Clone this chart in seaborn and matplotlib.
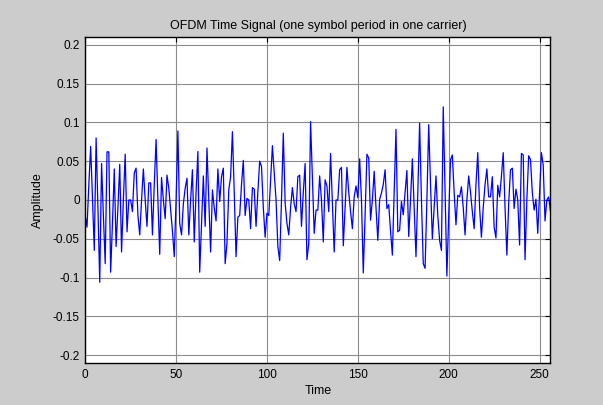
import numpy as np
import pandas as pd
import matplotlib
matplotlib.use("Agg")
import matplotlib.pyplot as plt
import seaborn as sns

# Time-domain OFDM samples, one symbol period (n = 0 .. 256), in four blocks
amp_block1 = [
    -0.02, -0.035, 0.02, 0.069, 0.0, -0.065, 0.08, -0.01, -0.106, 0.047,
    -0.02, -0.082, 0.062, 0.062, -0.093, -0.03, 0.04, -0.06, -0.01, 0.046,
    -0.067, 0.0, 0.059, -0.041, 0.0, 0.0, -0.015, 0.035, 0.041, -0.02,
    -0.045, 0.0, 0.04, 0.0, -0.034, 0.022, 0.022, -0.045, 0.02, 0.078,
    0.0, -0.07, 0.029, 0.0, -0.024, 0.032, 0.015, -0.013, -0.04, -0.073,
    0.0, 0.089, -0.03, -0.045, -0.005, 0.015, 0.028, -0.045, 0.0, 0.039,
    -0.054, 0.01, 0.0625, -0.093,
]
amp_block2 = [
    -0.03, 0.031, -0.034, 0.067, 0.0, -0.067, 0.013, -0.01, -0.027, 0.04,
    -0.002, 0.03, 0.041, -0.082, -0.056, 0.013, 0.03, 0.088, 0.01, -0.073,
    -0.022, -0.02, 0.02, 0.051, -0.02, 0.002, 0.0, -0.037, 0.016, 0.014,
    -0.034, 0.01, 0.05, 0.043, -0.01, -0.048, -0.017, -0.02, 0.025, 0.07,
    0.035, 0.0, -0.06, -0.078, 0.0, 0.086, -0.004, -0.03, -0.045, -0.01,
    0.016, -0.005, -0.015, 0.03, 0.032, -0.034, 0.01, 0.047, -0.077, -0.056,
    0.101, 0.03, -0.043, -0.013,
]
amp_block3 = [
    -0.013, 0.031, 0.0, -0.054, 0.026, 0.018, -0.015, 0.06, -0.005, -0.067,
    0.0, 0.0, 0.039, 0.042, -0.059, -0.01, 0.042, 0.01, -0.015, -0.037,
    0.004, 0.018, 0.003, 0.053, 0.0, -0.094, -0.02, 0.059, 0.054, -0.026,
    0.0, 0.037, -0.01, -0.052, 0.001, 0.009, 0.02, 0.039, -0.011, -0.006,
    -0.04, -0.071, 0.01, 0.091, -0.041, -0.039, -0.002, -0.019, 0.01, 0.038,
    -0.047, 0.0, 0.053, -0.01, -0.073, 0.01, 0.099, 0.0, -0.082, -0.088,
    0.0, 0.097, 0.02, -0.05,
]
amp_block4 = [
    -0.01, 0.031, -0.02, -0.052, -0.065, 0.12, 0.01, -0.098, -0.02, 0.052,
    0.058, 0.01, -0.032, 0.006, 0.004, 0.017, -0.01, -0.045, 0.0, 0.031,
    0.01, -0.015, -0.037, 0.02, 0.061, -0.01, -0.048, -0.01, 0.02, 0.04,
    0.004, 0.004, 0.03, -0.035, -0.049, 0.019, 0.004, 0.03, 0.061, -0.01,
    -0.071, -0.005, 0.039, 0.041, -0.011, 0.014, 0.0, -0.058, 0.06, 0.058,
    -0.077, 0.0, 0.057, 0.052, 0.01, -0.013, 0.001, -0.043, 0.01, 0.061,
    0.045, -0.027, 0.0, 0.004, -0.015,
]

x_ticks = [0, 50, 100, 150, 200, 250]
x_tick_labels = ["0", "50", "100", "150", "200", "250"]
y_ticks = [-0.2, -0.15, -0.1, -0.05, 0, 0.05, 0.1, 0.15, 0.2]
y_tick_labels = ["-0.2", "-0.15", "-0.1", "-0.05", "0", "0.05", "0.1", "0.15", "0.2"]

amplitude = amp_block1 + amp_block2 + amp_block3 + amp_block4
df = pd.DataFrame({"Time": np.arange(len(amplitude)), "Amplitude": amplitude})

sns.set_style("white")
plt.rcParams["font.family"] = ["Liberation Sans", "DejaVu Sans"]
plt.rcParams["text.color"] = "black"
plt.rcParams["axes.labelcolor"] = "black"

fig = plt.figure(figsize=(6.03, 4.05), dpi=100, facecolor="#cccccc")
ax = fig.add_axes([0.1413, 0.1037, 0.7716, 0.805])
ax.set_facecolor("white")

sns.lineplot(data=df, x="Time", y="Amplitude", ax=ax, color="#0000ff",
             linewidth=0.9, estimator=None)

ax.set_xlim(0, 256)
ax.set_ylim(-0.21, 0.21)
ax.set_xticks(x_ticks)
ax.set_xticklabels(x_tick_labels)
ax.set_yticks(y_ticks)
ax.set_yticklabels(y_tick_labels)

ax.grid(True, color="#8c8c8c", linewidth=0.8, linestyle="-")
ax.set_axisbelow(True)
ax.tick_params(direction="in", top=True, right=True, length=3.5, width=0.8,
               labelsize=8.5, colors="black", pad=4)
for s in ax.spines.values():
    s.set_visible(True)
    s.set_color("black")
    s.set_linewidth(1.0)

ax.set_title("OFDM Time Signal (one symbol period in one carrier)", fontsize=9,
             pad=6, color="black")
ax.set_xlabel("Time", fontsize=9, labelpad=3, color="black")
ax.set_ylabel("Amplitude", fontsize=9, labelpad=6, color="black")

fig.savefig("out.png", dpi=100, facecolor=fig.get_facecolor())
